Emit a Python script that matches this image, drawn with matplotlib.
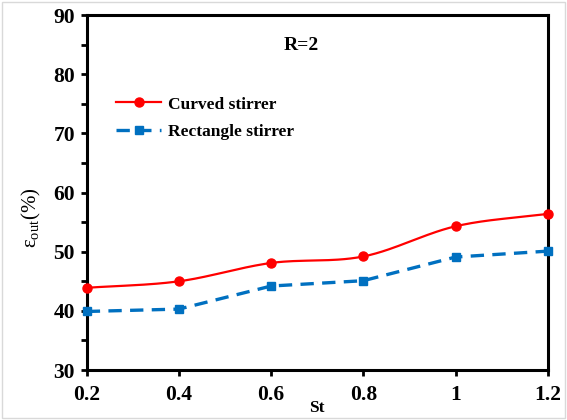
import numpy as np
import matplotlib.pyplot as plt
from matplotlib.patches import Rectangle

st = [0.2, 0.4, 0.6, 0.8, 1.0, 1.2]
curved = [43.9, 45.0, 48.1, 49.2, 54.3, 56.4]
rectangle = [39.9, 40.3, 44.2, 45.1, 49.1, 50.1]
x_ticks = [0.2, 0.4, 0.6, 0.8, 1.0, 1.2]
x_tick_labels = ['0.2', '0.4', '0.6', '0.8', '1', '1.2']
y_ticks = [30, 40, 50, 60, 70, 80, 90]

plt.rcParams['font.family'] = 'Liberation Serif'
plt.rcParams['mathtext.fontset'] = 'custom'
plt.rcParams['mathtext.rm'] = 'Liberation Serif'
plt.rcParams['mathtext.it'] = 'Liberation Serif:italic'


def smooth(x, y, n=30):
    # catmull-rom through the points, like a spreadsheet "smoothed line"
    x = np.asarray(x, float)
    y = np.asarray(y, float)
    px = np.concatenate([[2 * x[0] - x[1]], x, [2 * x[-1] - x[-2]]])
    py = np.concatenate([[2 * y[0] - y[1]], y, [2 * y[-1] - y[-2]]])
    xs, ys = [], []
    t = np.linspace(0, 1, n)
    for i in range(1, len(px) - 2):
        for p, out in ((px, xs), (py, ys)):
            p0, p1, p2, p3 = p[i - 1], p[i], p[i + 1], p[i + 2]
            out.extend(0.5 * (2 * p1 + (-p0 + p2) * t
                              + (2 * p0 - 5 * p1 + 4 * p2 - p3) * t ** 2
                              + (-p0 + 3 * p1 - 3 * p2 + p3) * t ** 3))
    return np.array(xs), np.array(ys)


fig = plt.figure(figsize=(5.67, 4.2), dpi=100)
ax = fig.add_axes([0.153, 0.119, 0.813, 0.845])

sx, sy = smooth(st, curved)
ax.plot(sx, sy, color='#ff0000', lw=1.6, zorder=3)
ax.plot(st, curved, 'o', color='#ff0000', ms=6.5, zorder=4, clip_on=False)
ax.plot([], [], '-o', color='#ff0000', lw=1.6, ms=6.5, label='Curved stirrer')

ax.plot(st, rectangle, '--s', color='#0070c0', lw=2.4, ms=6, dashes=(4, 2.5),
        zorder=3, clip_on=False, label='Rectangle stirrer')

ax.set_xlim(0.2, 1.2)
ax.set_ylim(30, 90)
ax.set_xticks(x_ticks)
ax.set_xticklabels(x_tick_labels)
ax.set_yticks(y_ticks)
ax.set_yticks(np.arange(35, 90, 10), minor=True)

for s in ax.spines.values():
    s.set_linewidth(2.2)
ax.tick_params(which='both', direction='out', length=4.5, width=2, labelsize=15.5, pad=4)
ax.tick_params(axis='x', pad=6)
for lab in ax.get_xticklabels() + ax.get_yticklabels():
    lab.set_fontweight('bold')

ax.set_xlabel('St', fontsize=12.5, fontweight='bold', labelpad=-3)
ax.set_ylabel(r'$\mathrm{\varepsilon_{out}}$(%)', fontsize=15)
ax.yaxis.set_label_coords(-0.095, 0.43)

ax.text(0.465, 0.915, 'R=2', transform=ax.transAxes, ha='center', va='center',
        fontsize=14, fontweight='bold')

ax.legend(loc='upper left', bbox_to_anchor=(0.03, 0.815), frameon=False,
          handlelength=2.6, handletextpad=0.4, labelspacing=0.65,
          prop={'size': 12.5, 'weight': 'bold'})

fig.patches.append(Rectangle((0.004, 0.004), 0.992, 0.992, transform=fig.transFigure,
                             fill=False, edgecolor='#d9d9d9', lw=1))

fig.savefig('out.png', dpi=100)
